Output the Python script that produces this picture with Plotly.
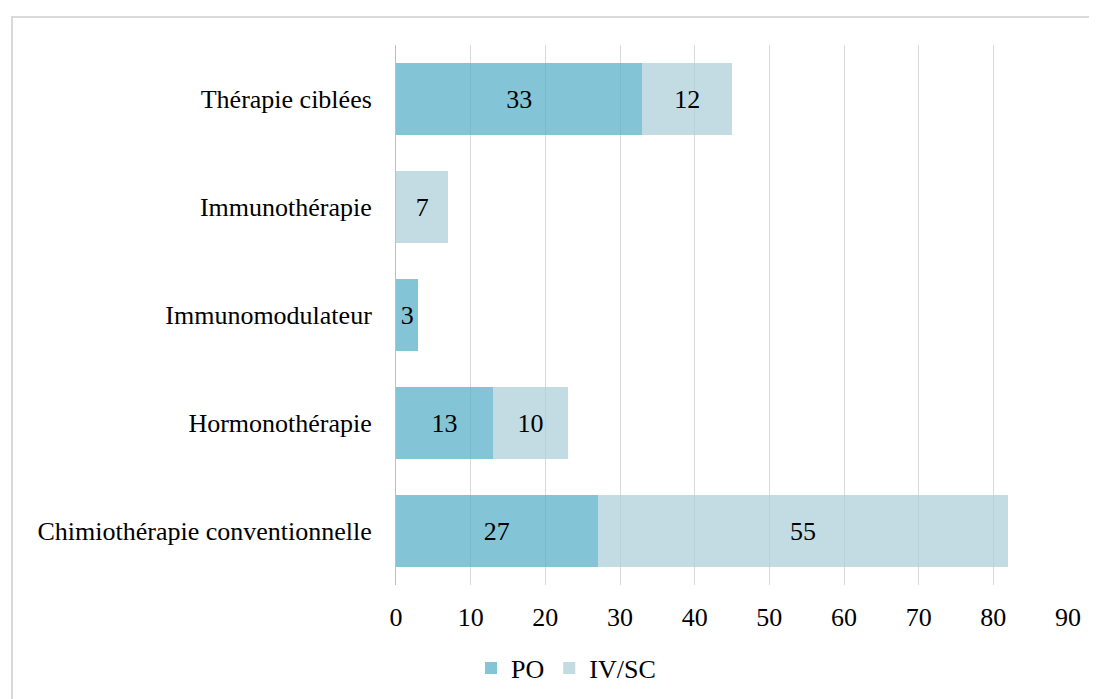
import plotly.graph_objects as go

# categories listed bottom -> top (plotly draws horizontal bars upward)
categories = ["Chimiothérapie conventionnelle", "Hormonothérapie", "Immunomodulateur",
              "Immunothérapie", "Thérapie ciblées"]
po_values = [27, 13, 3, None, 33]
iv_sc_values = [55, 10, None, 7, 12]
x_ticks = [0, 10, 20, 30, 40, 50, 60, 70, 80, 90]

font_family = "Liberation Serif"
fsize = 26

fig = go.Figure()
fig.add_trace(go.Bar(
    y=categories, x=po_values, name="PO", orientation="h",
    marker=dict(color="rgba(90,178,200,0.75)", line_width=0),
    text=po_values, textposition="inside", insidetextanchor="middle",
    textfont=dict(color="black", size=fsize, family=font_family),
))
fig.add_trace(go.Bar(
    y=categories, x=iv_sc_values, name="IV/SC", orientation="h",
    marker=dict(color="rgba(175,208,219,0.75)", line_width=0),
    text=iv_sc_values, textposition="inside", insidetextanchor="middle",
    textfont=dict(color="black", size=fsize, family=font_family),
))

# outer chart border
fig.add_shape(type="rect", xref="paper", yref="paper",
              x0=-0.5714, x1=1.08, y0=1.0519, y1=-0.3,
              line=dict(color="#D9D9D9", width=2), layer="below")

fig.update_layout(
    barmode="stack",
    bargap=0.333,
    width=1097, height=699,
    margin=dict(l=388, r=37, t=37, b=122),
    plot_bgcolor="white", paper_bgcolor="white",
    font=dict(family=font_family, size=fsize, color="black"),
    uniformtext=dict(minsize=fsize, mode="show"),
    xaxis=dict(range=[0, 90], tickvals=x_ticks, showgrid=True,
               gridcolor="#D9D9D9", gridwidth=1, zeroline=False,
               showline=False, ticks="", tickfont=dict(size=fsize),
               ticklabelstandoff=14),
    yaxis=dict(showline=True, linecolor="#BFBFBF", linewidth=1, ticks="",
               tickfont=dict(size=fsize), ticklabelstandoff=18),
    legend=dict(orientation="h", x=0.253, xanchor="center", y=-0.154,
                yanchor="middle", font=dict(size=fsize), itemwidth=30,
                traceorder="normal"),
    showlegend=True,
)

fig.write_html("out.html")
